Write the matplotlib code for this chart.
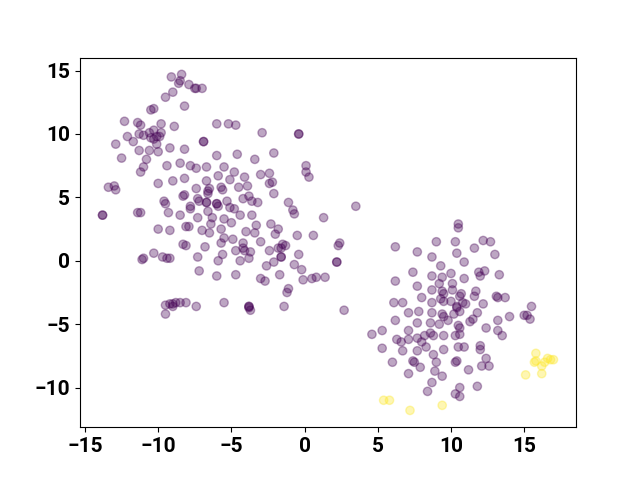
import numpy as np
import matplotlib.pyplot as plt

# cluster 0 (purple)
x0 = [-9.1, -8.4, -8.6, -8.5, -7.9, -7.5, -7.4, -7.0, -9.0, -9.5, -8.2, -10.5, -10.3,
      -12.3, -11.4, -11.2, -9.8, -8.9, -6.9, -6.9, -12.9, -12.1, -11.7, -11.3, -11.0,
      -10.6, -10.3, -10.5, -10.3, -10.1, -9.9, -9.8, -10.1, -11.3, -10.6, -10.0, -9.2,
      -8.2, -12.5, -10.8, -9.4, -8.5, -7.8, -7.4, -6.7, -11.0, -11.2,
      -6.0, -5.2, -4.7, -2.9, -0.4, -0.4, -6.0, -4.6, -3.4, -2.1, -5.5, 0.1,
      -13.4, -13.0, -12.9, -10.0, -9.0, -8.2, -7.4, -6.7, -8.3, -8.2, -9.6, -9.5,
      -9.3, -8.5, -7.8, -7.8, -7.3, -7.2, -6.7, -6.7, -6.6, -7.3, -6.6, -13.8, -13.8,
      -11.4, -11.2, -10.0, -9.2, -8.1, -7.9, -7.0, -6.5, -8.3, -8.1, -6.8, -10.3,
      -11.1, -11.0, -9.7, -9.4, -9.2, -7.3, -7.2,
      0.1, 0.3, -5.9, -4.8, -5.1, -4.1, -3.0, -2.4, -5.7, -5.6, -4.5, -3.9, -2.4,
      -2.2, -2.1, -6.6, -6.5, -6.0, -6.0, -5.9, -5.3, -5.1, -4.8, -4.2, -3.8, -3.6,
      -3.2, -4.4, -3.6, -1.1, -0.8, -0.7, 1.3, 3.5, -6.3, -6.4, -5.5, -5.0, -5.7,
      -4.0, -3.4, -3.3, -2.3, -1.8, -2.0, -0.5, 0.6, -5.5, -5.7, -4.9, -4.2, -3.0,
      -4.7, -4.2, -4.1, -3.7, -3.8, -4.4, -5.6, -5.9, -2.4, -1.8, -1.6, -1.5, -1.3,
      -1.6, -1.6, -0.4, -2.1, -2.6, -0.7, -0.2, 2.4, 2.3, 2.2, 2.2,
      -9.5, -9.2, -9.0, -8.8, -8.5, -8.1, -9.0, -7.4, -9.5,
      -0.1, -6.0, -4.7, -3.0, -2.7, -1.7, -1.1, -1.2, 0.5, 0.8, 1.4, -5.5, -3.8,
      -3.8, -3.7, -3.8, -1.4, 2.7,
      10.5, 10.5, 6.2, 7.7, 9.0, 10.3, 8.7, 10.4, 10.9, 9.3, 7.4, 8.7, 9.4, 10.0,
      10.9, 6.2, 7.7, 8.7, 9.2, 9.4, 9.5, 10.1, 10.1, 10.6, 10.7, 8.0, 6.1, 6.7,
      8.7, 9.5, 10.0, 10.4, 10.8, 7.1, 7.8, 8.7, 9.4, 9.5, 10.2, 10.4, 6.2, 7.7,
      8.6, 9.2, 9.8, 10.5, 10.6, 7.1, 4.6, 5.3,
      12.2, 12.7, 11.6, 13.0, 11.9, 12.0, 12.3, 13.3, 11.7, 11.6, 12.2, 13.1, 13.2,
      13.7, 9.3, 10.6, 11.0, 11.8, 11.5, 11.3, 12.4, 13.2, 14.0, 15.0, 15.2, 15.4,
      15.5, 13.2,
      6.3, 6.6, 7.1, 7.7, 8.0, 8.2, 8.6, 8.8, 9.5, 10.3, 10.6, 5.3, 6.7, 7.7, 8.3,
      8.8, 9.5, 10.9, 6.0, 7.4, 7.5, 7.9, 9.0, 10.3, 10.4, 8.9, 9.4, 7.1, 8.7, 8.4,
      10.6, 10.3, 10.6, 13.5, 10.5, 12.0, 12.0, 12.4, 12.1, 12.6, 11.2, 11.8]
y0 = [14.5, 14.7, 14.0, 14.2, 13.9, 13.6, 13.6, 13.6, 13.3, 12.9, 12.2, 11.9, 12.0,
      11.0, 10.9, 10.7, 10.8, 10.6, 9.4, 9.4, 9.2, 9.8, 9.4, 10.0, 9.9,
      10.1, 10.3, 9.7, 9.6, 9.8, 9.8, 10.1, 9.2, 8.7, 8.7, 8.6, 8.9,
      8.8, 8.1, 8.0, 7.5, 7.7, 7.5, 7.3, 7.4, 7.4, 7.0,
      10.8, 10.8, 10.7, 10.1, 10.0, 10.0, 8.3, 8.4, 8.0, 8.5, 7.4, 7.5,
      5.8, 5.9, 5.6, 6.1, 6.3, 6.5, 5.7, 6.3, 5.1, 5.2, 4.7, 4.5,
      3.8, 3.6, 4.3, 4.1, 4.9, 4.7, 4.6, 4.6, 5.3, 3.4, 3.9, 3.6, 3.6,
      3.8, 3.8, 2.5, 2.4, 2.7, 2.7, 2.4, 2.2, 1.3, 1.2, 1.1, 0.6,
      0.1, 0.2, 0.3, 0.2, 0.2, 0.3, -0.8,
      7.0, 6.6, 6.7, 7.0, 6.4, 6.6, 6.8, 6.9, 5.8, 5.6, 5.8, 5.9, 6.1,
      6.2, 5.3, 5.5, 5.7, 4.5, 4.5, 4.3, 4.7, 4.2, 4.1, 4.9, 5.1, 4.7,
      4.6, 3.6, 3.6, 4.6, 4.0, 3.7, 3.4, 4.3, 3.4, 2.9, 3.3, 3.0, 2.5,
      2.3, 2.2, 2.8, 2.9, 2.5, 2.1, 2.0, 2.0, 1.8, 1.4, 1.7, 1.4, 1.5,
      0.8, 1.0, 0.8, 0.7, 0.2, 0.0, 0.5, 0.0, 0.8, 1.0, 1.0, 1.3, 1.2,
      0.3, 0.3, 0.5, -0.1, -0.4, -0.3, -0.7, 1.4, 1.2, -0.1, -0.1,
      -3.5, -3.4, -3.4, -3.3, -3.3, -3.3, -3.6, -3.6, -4.2,
      -1.5, -1.2, -1.1, -1.4, -1.6, -1.1, -2.2, -2.5, -1.4, -1.3, -1.3, -3.3, -3.6,
      -3.7, -3.9, -3.6, -3.6, -3.9,
      2.9, 2.6, 1.1, 0.7, 1.5, 1.5, 0.3, 0.6, -0.1, -0.4, -0.9, -1.2, -1.3, -1.0,
      -1.4, -1.6, -2.0, -2.3, -1.8, -2.4, -2.6, -1.8, -2.3, -2.8, -2.6, -2.9, -3.3, -3.3,
      -3.3, -3.2, -3.2, -3.6, -3.3, -4.1, -4.0, -4.1, -4.2, -4.4, -4.2, -3.7, -4.7, -4.9,
      -4.9, -5.0, -4.7, -5.1, -5.3, -5.5, -5.8, -5.5,
      1.6, 1.5, 1.0, 0.5, -0.9, -1.2, -0.8, -1.1, -2.4, -2.8, -3.4, -2.8, -2.9,
      -2.9, -3.0, -4.0, -3.4, -4.1, -4.6, -4.8, -5.3, -4.7, -4.4, -4.3, -4.3, -4.6,
      -3.6, -5.5,
      -6.2, -6.4, -6.2, -6.1, -6.4, -5.9, -5.7, -5.9, -5.9, -5.9, -5.8, -6.9, -7.1, -7.1, -6.8,
      -7.4, -7.0, -6.8, -8.0, -7.9, -8.0, -8.4, -8.0, -8.0, -7.9, -8.7, -9.1, -8.9, -9.6, -10.3,
      -10.0, -10.5, -10.7, -5.9, -6.8, -6.7, -7.0, -7.7, -8.3, -8.3, -8.6, -9.9]

# cluster 1 (yellow)
x1 = [5.4, 5.8, 7.2, 9.4, 15.8, 15.8, 15.7, 16.2, 16.6, 16.8, 17.0, 16.4, 16.2, 15.1]
y1 = [-11.0, -11.0, -11.8, -11.4, -7.3, -7.9, -8.0, -8.3, -7.7, -7.8, -7.8, -8.0, -8.9, -9.0]

x = np.array(x0 + x1)
y = np.array(y0 + y1)
labels = np.array([0] * len(x0) + [1] * len(x1))

plt.rcParams['font.family'] = ['Roboto', 'DejaVu Sans']
plt.rcParams['font.weight'] = 'bold'
plt.rcParams['font.size'] = 15

fig = plt.figure(figsize=(6.4, 4.8), dpi=100)
plt.scatter(x, y, c=labels, cmap='viridis', alpha=0.35)
plt.savefig('out.png')
